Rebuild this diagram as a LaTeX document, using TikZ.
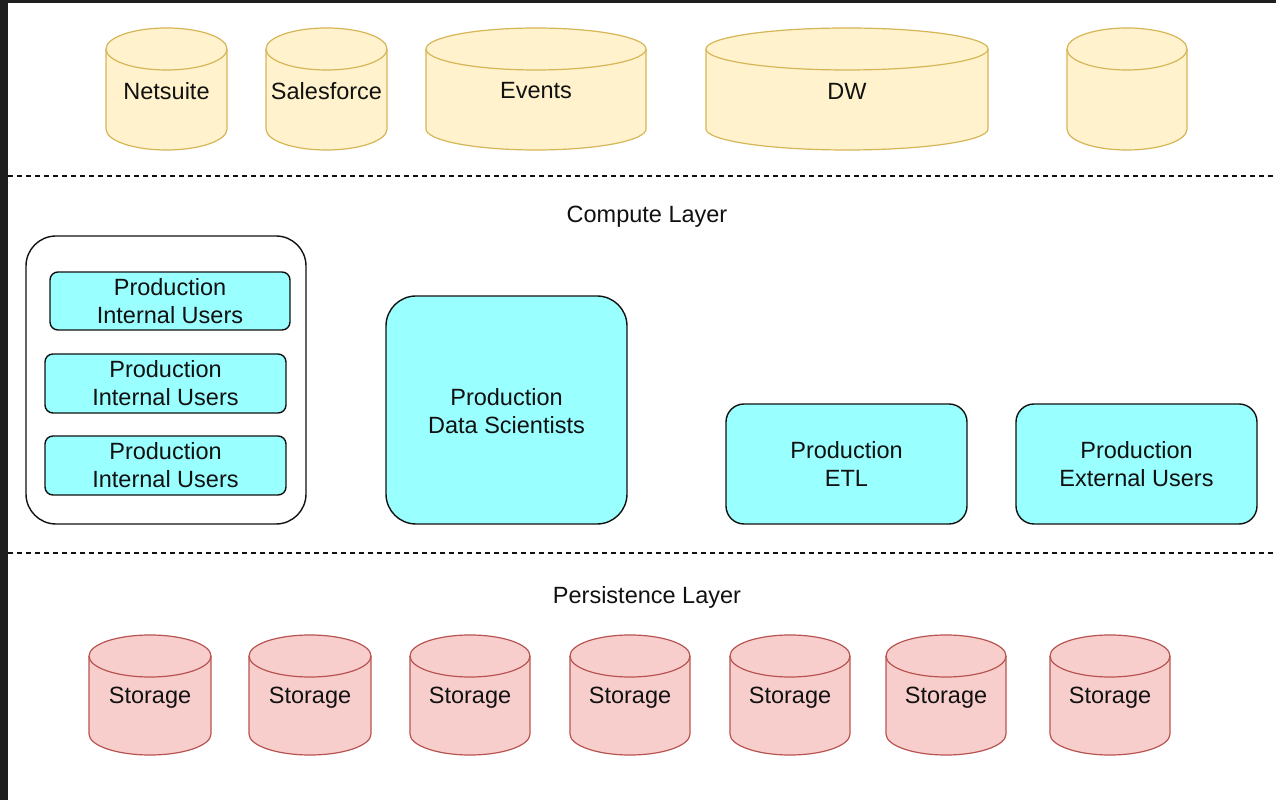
\documentclass[tikz,border=0pt]{standalone}
\usepackage{fontspec}
\setmainfont{Liberation Sans}
\definecolor{ylfill}{HTML}{FFF2CC}
\definecolor{yldraw}{HTML}{D6B656}
\definecolor{rdfill}{HTML}{F8CECC}
\definecolor{rddraw}{HTML}{B85450}
\definecolor{cyfill}{HTML}{99FFFF}
\definecolor{txt}{HTML}{111111}
\definecolor{frame}{HTML}{1E1E1E}
% \dbcyl{x1}{x2}{Ytop-center}{Ybottom-center}{fill}{draw}
\newcommand\dbcyl[6]{%
  \pgfmathsetmacro\rx{(#2-#1)/2}%
  \draw[fill=#5,draw=#6,line width=1.2pt] (#1,#3) -- (#1,#4)
     arc[start angle=180,end angle=360,x radius=\rx pt,y radius=21pt] -- (#2,#3)
     arc[start angle=0,end angle=180,x radius=\rx pt,y radius=21pt] -- cycle;
  \draw[draw=#6,line width=1.2pt] (#1,#3) arc[start angle=180,end angle=360,x radius=\rx pt,y radius=21pt];
}
\tikzset{
  lbl/.style={font=\fontsize{23.5}{28}\selectfont, text=txt, align=center, inner sep=0pt},
  prod/.style={draw=txt, fill=cyfill, line width=1.4pt, lbl, inner sep=0pt},
  layerline/.style={draw=txt, line width=1.2pt, dash pattern=on 5pt off 4pt},
}
\begin{document}
\begin{tikzpicture}[x=1pt,y=1pt]
\useasboundingbox (0,0) rectangle (1276,800);
\fill[white] (0,0) rectangle (1276,800);
\fill[frame] (0,0) rectangle (8,800);
\fill[frame] (0,797) rectangle (1276,800);

% source cylinders
\dbcyl{106}{227}{751}{671}{ylfill}{yldraw}
\dbcyl{266}{387}{751}{671}{ylfill}{yldraw}
\dbcyl{426}{646}{751}{671}{ylfill}{yldraw}
\dbcyl{706}{988}{751}{671}{ylfill}{yldraw}
\dbcyl{1067}{1187}{751}{671}{ylfill}{yldraw}
\node[lbl] (netsuite) at (166.5,709) {Netsuite};
\node[lbl] (salesforce) at (326.5,709) {Salesforce};
\node[lbl] (events) at (536,709) {Events};
\node[lbl] (dw) at (847,709) {DW};
\coordinate (blank) at (1127,709);

% layer lines
\coordinate (l1a) at (8,624);
\coordinate (l1b) at (1276,624);
\coordinate (l2a) at (8,247);
\coordinate (l2b) at (1276,247);
\draw[layerline] (l1a) -- (l1b);
\draw[layerline] (l2a) -- (l2b);

\node[lbl] (compute) at (647,583.5) {Compute Layer};
\node[lbl] (persist) at (647,203) {Persistence Layer};

% compute layer
\node[draw=txt, line width=1.4pt, rounded corners=30pt, minimum width=280pt, minimum height=288pt] (group) at (166,420) {};
\node[prod, rounded corners=8pt, minimum width=240pt, minimum height=58pt] (iu1) at (170,499) {Production\\Internal Users};
\node[prod, rounded corners=8pt, minimum width=241pt, minimum height=59pt] (iu2) at (165.5,416.5) {Production\\Internal Users};
\node[prod, rounded corners=8pt, minimum width=241pt, minimum height=59pt] (iu3) at (165.5,334.5) {Production\\Internal Users};
\node[prod, rounded corners=30pt, minimum width=241pt, minimum height=228pt] (ds) at (506.5,390) {};
\node[lbl] (dst) at (506.5,389) {Production\\Data Scientists};
\node[prod, rounded corners=18pt, minimum width=241pt, minimum height=120pt] (etl) at (846.5,336) {Production\\ETL};
\node[prod, rounded corners=18pt, minimum width=241pt, minimum height=120pt] (ext) at (1136.5,336) {Production\\External Users};

% storage cylinders
\foreach \a/\b/\n in {89/211/s1,249/371/s2,410/530/s3,570/690/s4,730/850/s5,886/1006/s6,1050/1170/s7}{
  \dbcyl{\a}{\b}{144}{66}{rdfill}{rddraw}
  \node[lbl] (\n) at ({(\a+\b)/2},102.5) {Storage};
}
\end{tikzpicture}
\end{document}
